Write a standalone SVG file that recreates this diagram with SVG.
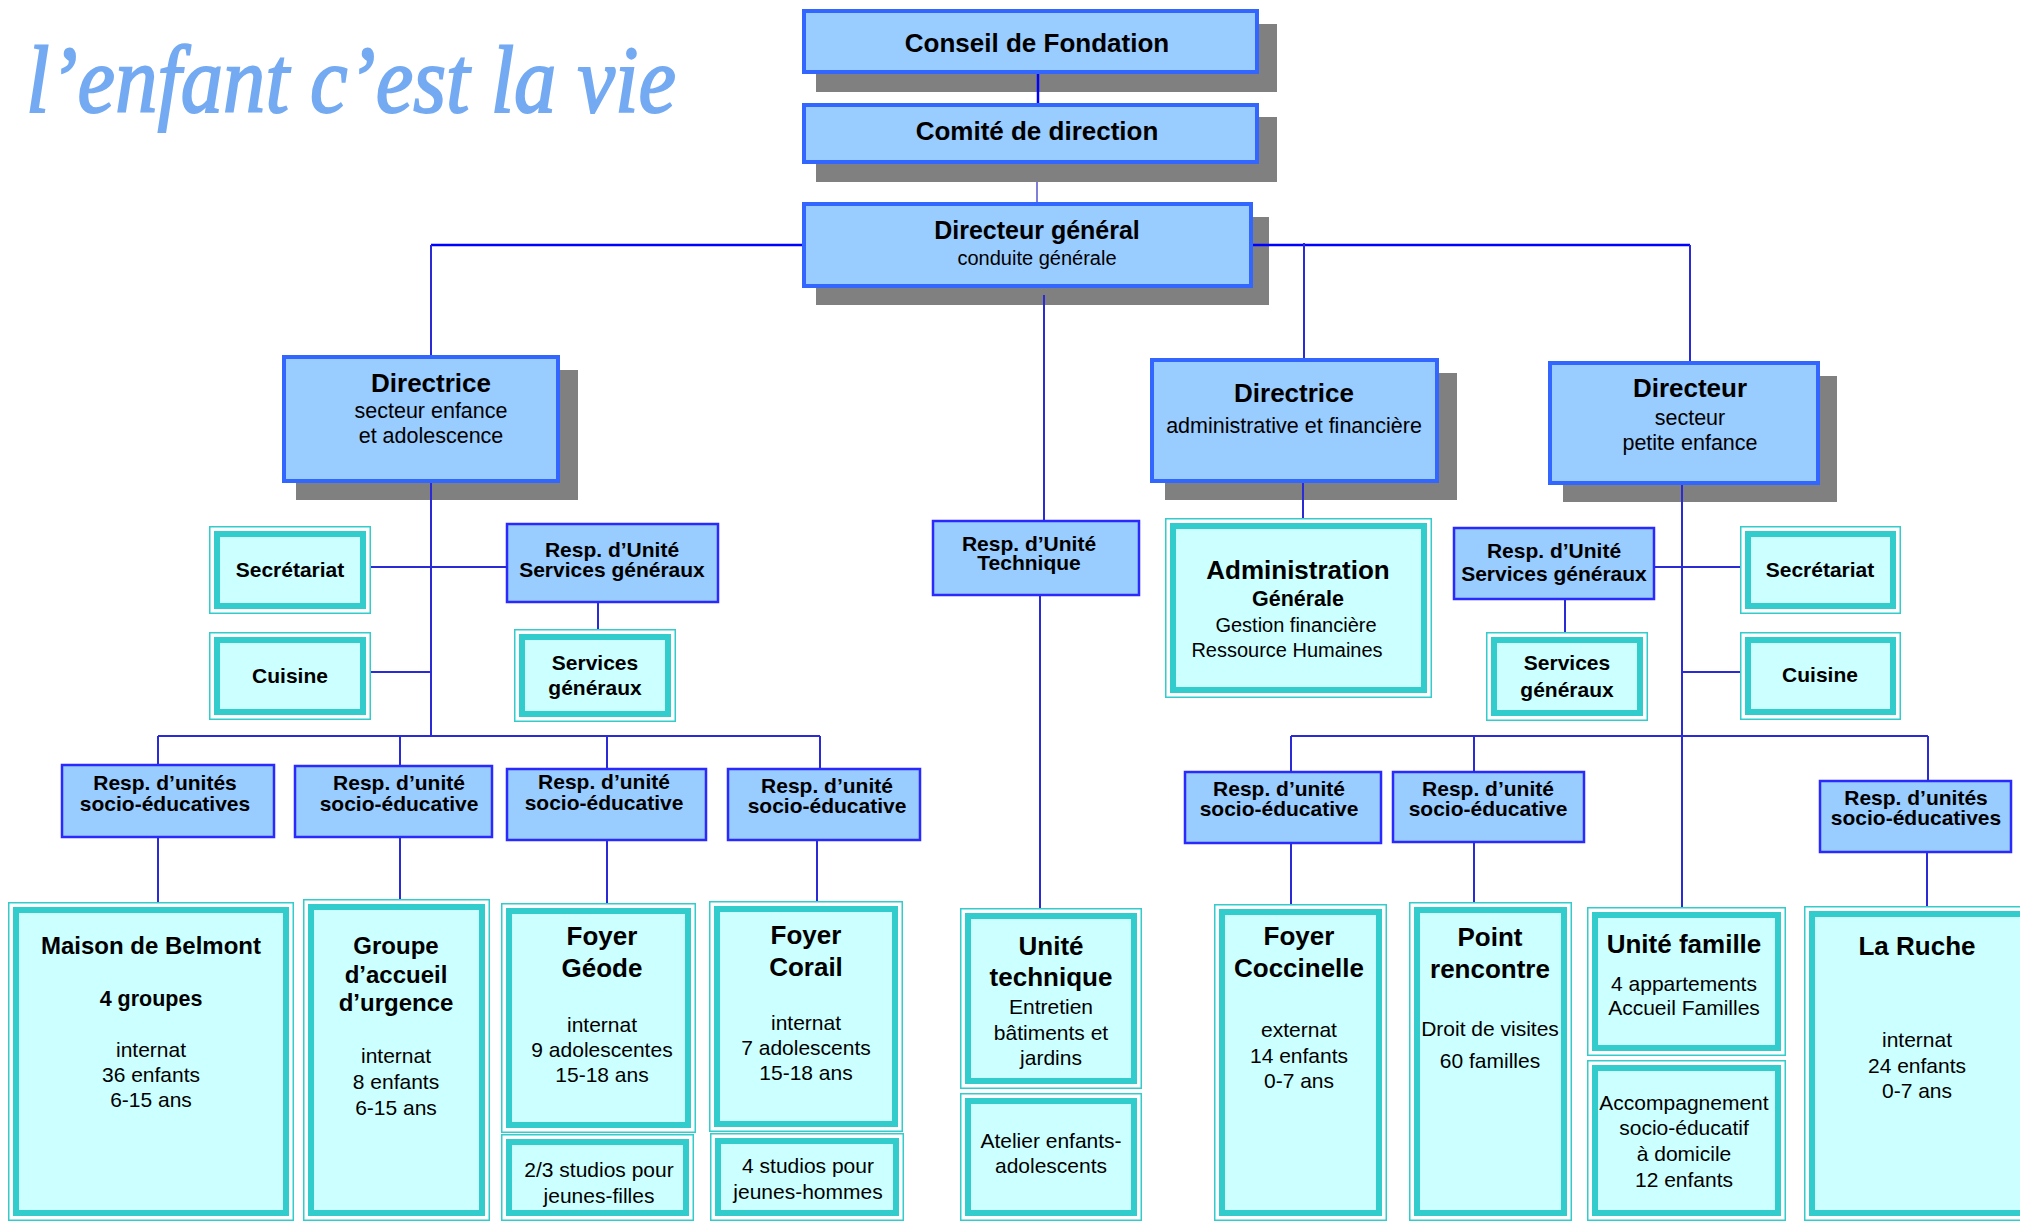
<svg xmlns="http://www.w3.org/2000/svg" width="2020" height="1221" viewBox="0 0 2020 1221">
<style>
text{font-family:"Liberation Sans",Arial,sans-serif;fill:#000;text-anchor:middle}
.b{font-weight:bold}
.t26{font-size:26px}
.t25{font-size:25px}
.t24{font-size:24px}
.t21{font-size:21px}
.t20{font-size:20px}
.s{font-size:21.5px}
.sh{fill:#808080}
.bx{fill:#99ccff;stroke:#3366ff;stroke-width:4}
.rb{fill:#99ccff;stroke:#2a2aff;stroke-width:2.5}
.to{fill:#ffffff;stroke:#33cccc;stroke-width:1.5}
.ti{fill:#ccffff;stroke:#33cccc;stroke-width:6}
.c{fill:none;stroke:#2b2bd6;stroke-width:2}
.cm{fill:none;stroke:#0000ff;stroke-width:2.5}
.logo{font-family:"Liberation Serif",serif;font-style:italic;font-size:96px;fill:#74aaf2;stroke:#74aaf2;stroke-width:2;text-anchor:start}
</style>

<text id="logo" class="logo" x="26" y="112" textLength="650" lengthAdjust="spacingAndGlyphs">l’enfant c’est la vie</text>

<g id="conseil">
<rect class="sh" x="816" y="24" width="461" height="68"/>
<rect class="bx" x="804" y="11" width="453" height="61"/>
<text class="b t26" x="1037" y="52">Conseil de Fondation</text>
</g>
<g id="comite">
<rect class="sh" x="816" y="117" width="461" height="65"/>
<rect class="bx" x="804" y="105" width="453" height="57"/>
<text class="b t26" x="1037" y="140">Comité de direction</text>
</g>
<g id="dg">
<rect class="sh" x="816" y="217" width="453" height="88"/>
<rect class="bx" x="804" y="204" width="447" height="82"/>
<text class="b t25" x="1037" y="239">Directeur général</text>
<text class="t20" x="1037" y="265">conduite générale</text>
</g>

<g id="dir-enfance">
<rect class="sh" x="296" y="370" width="282" height="130"/>
<rect class="bx" x="284" y="357" width="274" height="124"/>
<text class="b t26" x="431" y="392">Directrice</text>
<text class="s" x="431" y="418">secteur enfance</text>
<text class="s" x="431" y="443">et adolescence</text>
</g>
<g id="dir-admin">
<rect class="sh" x="1165" y="373" width="292" height="127"/>
<rect class="bx" x="1152" y="360" width="285" height="121"/>
<text class="b t26" x="1294" y="402">Directrice</text>
<text class="s" x="1294" y="433">administrative et financière</text>
</g>
<g id="dir-petite">
<rect class="sh" x="1563" y="376" width="274" height="126"/>
<rect class="bx" x="1550" y="363" width="268" height="120"/>
<text class="b t26" x="1690" y="397">Directeur</text>
<text class="s" x="1690" y="425">secteur</text>
<text class="s" x="1690" y="450">petite enfance</text>
</g>

<g id="resp-sg-l">
<rect class="rb" x="507" y="524" width="211" height="78"/>
<text class="b t21" x="612" y="557">Resp. d’Unité</text>
<text class="b t21" x="612" y="577">Services généraux</text>
</g>
<g id="resp-tech">
<rect class="rb" x="933" y="521" width="206" height="74"/>
<text class="b t21" x="1029" y="551">Resp. d’Unité</text>
<text class="b t21" x="1029" y="570">Technique</text>
</g>
<g id="resp-sg-r">
<rect class="rb" x="1454" y="528" width="200" height="71"/>
<text class="b t21" x="1554" y="558">Resp. d’Unité</text>
<text class="b t21" x="1554" y="581">Services généraux</text>
</g>

<g id="resp-1">
<rect class="rb" x="62" y="765" width="212" height="72"/>
<text class="b t21" x="165" y="790">Resp. d’unités</text>
<text class="b t21" x="165" y="811">socio-éducatives</text>
</g>
<g id="resp-2">
<rect class="rb" x="295" y="766" width="197" height="71"/>
<text class="b t21" x="399" y="790">Resp. d’unité</text>
<text class="b t21" x="399" y="811">socio-éducative</text>
</g>
<g id="resp-3">
<rect class="rb" x="507" y="769" width="199" height="71"/>
<text class="b t21" x="604" y="789">Resp. d’unité</text>
<text class="b t21" x="604" y="810">socio-éducative</text>
</g>
<g id="resp-4">
<rect class="rb" x="728" y="769" width="192" height="71"/>
<text class="b t21" x="827" y="793">Resp. d’unité</text>
<text class="b t21" x="827" y="813">socio-éducative</text>
</g>
<g id="resp-a">
<rect class="rb" x="1185" y="772" width="196" height="71"/>
<text class="b t21" x="1279" y="796">Resp. d’unité</text>
<text class="b t21" x="1279" y="816">socio-éducative</text>
</g>
<g id="resp-b">
<rect class="rb" x="1393" y="772" width="191" height="70"/>
<text class="b t21" x="1488" y="796">Resp. d’unité</text>
<text class="b t21" x="1488" y="816">socio-éducative</text>
</g>
<g id="resp-c">
<rect class="rb" x="1820" y="781" width="191" height="71"/>
<text class="b t21" x="1916" y="805">Resp. d’unités</text>
<text class="b t21" x="1916" y="825">socio-éducatives</text>
</g>

<g id="secretariat-l">
<rect class="to" x="209.75" y="526.75" width="160.5" height="86.5"/>
<rect class="ti" x="217" y="534" width="146" height="72"/>
<text class="b t21" x="290" y="577">Secrétariat</text>
</g>
<g id="cuisine-l">
<rect class="to" x="209.75" y="632.75" width="160.5" height="86.5"/>
<rect class="ti" x="217" y="640" width="146" height="72"/>
<text class="b t21" x="290" y="683">Cuisine</text>
</g>
<g id="sg-l">
<rect class="to" x="514.75" y="629.75" width="160.5" height="91.5"/>
<rect class="ti" x="522" y="637" width="146" height="77"/>
<text class="b t21" x="595" y="670">Services</text>
<text class="b t21" x="595" y="695">généraux</text>
</g>
<g id="administration">
<rect class="to" x="1165.75" y="518.75" width="265.5" height="178.5"/>
<rect class="ti" x="1173" y="526" width="251" height="164"/>
<text class="b t26" x="1298" y="579">Administration</text>
<text class="b s" x="1298" y="606">Générale</text>
<text class="t20" x="1296" y="632">Gestion financière</text>
<text class="t20" x="1287" y="657">Ressource Humaines</text>
</g>
<g id="sg-r">
<rect class="to" x="1486.75" y="632.75" width="160.5" height="87.5"/>
<rect class="ti" x="1494" y="640" width="146" height="73"/>
<text class="b t21" x="1567" y="670">Services</text>
<text class="b t21" x="1567" y="697">généraux</text>
</g>
<g id="secretariat-r">
<rect class="to" x="1740.75" y="526.75" width="159.5" height="86.5"/>
<rect class="ti" x="1748" y="534" width="145" height="72"/>
<text class="b t21" x="1820" y="577">Secrétariat</text>
</g>
<g id="cuisine-r">
<rect class="to" x="1740.75" y="632.75" width="159.5" height="86.5"/>
<rect class="ti" x="1748" y="640" width="145" height="72"/>
<text class="b t21" x="1820" y="682">Cuisine</text>
</g>

<g id="belmont">
<rect class="to" x="8.75" y="902.75" width="284.5" height="317.5"/>
<rect class="ti" x="16" y="910" width="270" height="303"/>
<text class="b t24" x="151" y="954">Maison de Belmont</text>
<text class="b s" x="151" y="1006">4 groupes</text>
<text class="t21" x="151" y="1057">internat</text>
<text class="t21" x="151" y="1082">36 enfants</text>
<text class="t21" x="151" y="1107">6-15 ans</text>
</g>
<g id="groupe-accueil">
<rect class="to" x="303.75" y="899.75" width="185.5" height="320.5"/>
<rect class="ti" x="311" y="907" width="171" height="306"/>
<text class="b t24" x="396" y="954">Groupe</text>
<text class="b t24" x="396" y="983">d’accueil</text>
<text class="b t24" x="396" y="1011">d’urgence</text>
<text class="t21" x="396" y="1063">internat</text>
<text class="t21" x="396" y="1089">8 enfants</text>
<text class="t21" x="396" y="1115">6-15 ans</text>
</g>
<g id="geode">
<rect class="to" x="501.75" y="903.75" width="193.5" height="228.5"/>
<rect class="ti" x="509" y="911" width="179" height="214"/>
<text class="b t26" x="602" y="945">Foyer</text>
<text class="b t26" x="602" y="977">Géode</text>
<text class="t21" x="602" y="1032">internat</text>
<text class="t21" x="602" y="1057">9 adolescentes</text>
<text class="t21" x="602" y="1082">15-18 ans</text>
</g>
<g id="studios-filles">
<rect class="to" x="501.75" y="1134.75" width="191.5" height="85.5"/>
<rect class="ti" x="509" y="1142" width="177" height="71"/>
<text class="t21" x="599" y="1177">2/3 studios pour</text>
<text class="t21" x="599" y="1203">jeunes-filles</text>
</g>
<g id="corail">
<rect class="to" x="709.75" y="901.75" width="192.5" height="229.5"/>
<rect class="ti" x="717" y="909" width="178" height="215"/>
<text class="b t26" x="806" y="944">Foyer</text>
<text class="b t26" x="806" y="976">Corail</text>
<text class="t21" x="806" y="1030">internat</text>
<text class="t21" x="806" y="1055">7 adolescents</text>
<text class="t21" x="806" y="1080">15-18 ans</text>
</g>
<g id="studios-hommes">
<rect class="to" x="710.75" y="1133.75" width="192.5" height="86.5"/>
<rect class="ti" x="718" y="1141" width="178" height="72"/>
<text class="t21" x="808" y="1173">4 studios pour</text>
<text class="t21" x="808" y="1199">jeunes-hommes</text>
</g>
<g id="unite-technique">
<rect class="to" x="960.75" y="908.75" width="180.5" height="179.5"/>
<rect class="ti" x="968" y="916" width="166" height="165"/>
<text class="b t26" x="1051" y="955">Unité</text>
<text class="b t26" x="1051" y="986">technique</text>
<text class="t21" x="1051" y="1014">Entretien</text>
<text class="t21" x="1051" y="1040">bâtiments et</text>
<text class="t21" x="1051" y="1065">jardins</text>
</g>
<g id="atelier">
<rect class="to" x="960.75" y="1093.75" width="180.5" height="126.5"/>
<rect class="ti" x="968" y="1101" width="166" height="112"/>
<text class="t21" x="1051" y="1148">Atelier enfants-</text>
<text class="t21" x="1051" y="1173">adolescents</text>
</g>
<g id="coccinelle">
<rect class="to" x="1214.75" y="904.75" width="171.5" height="315.5"/>
<rect class="ti" x="1222" y="912" width="157" height="301"/>
<text class="b t26" x="1299" y="945">Foyer</text>
<text class="b t26" x="1299" y="977">Coccinelle</text>
<text class="t21" x="1299" y="1037">externat</text>
<text class="t21" x="1299" y="1063">14 enfants</text>
<text class="t21" x="1299" y="1088">0-7 ans</text>
</g>
<g id="point-rencontre">
<rect class="to" x="1409.75" y="902.75" width="161.5" height="317.5"/>
<rect class="ti" x="1417" y="910" width="147" height="303"/>
<text class="b t26" x="1490" y="946">Point</text>
<text class="b t26" x="1490" y="978">rencontre</text>
<text class="t21" x="1490" y="1036">Droit de visites</text>
<text class="t21" x="1490" y="1068">60 familles</text>
</g>
<g id="unite-famille">
<rect class="to" x="1587.75" y="907.75" width="197.5" height="147.5"/>
<rect class="ti" x="1595" y="915" width="183" height="133"/>
<text class="b t26" x="1684" y="953">Unité famille</text>
<text class="t21" x="1684" y="991">4 appartements</text>
<text class="t21" x="1684" y="1015">Accueil Familles</text>
</g>
<g id="accompagnement">
<rect class="to" x="1587.75" y="1060.75" width="197.5" height="159.5"/>
<rect class="ti" x="1595" y="1068" width="183" height="145"/>
<text class="t21" x="1684" y="1110">Accompagnement</text>
<text class="t21" x="1684" y="1135">socio-éducatif</text>
<text class="t21" x="1684" y="1161">à domicile</text>
<text class="t21" x="1684" y="1187">12 enfants</text>
</g>
<g id="la-ruche">
<rect class="to" x="1804.75" y="906.75" width="230" height="313.5"/>
<rect class="ti" x="1812" y="914" width="220" height="299"/>
<text class="b t26" x="1917" y="955">La Ruche</text>
<text class="t21" x="1917" y="1047">internat</text>
<text class="t21" x="1917" y="1073">24 enfants</text>
<text class="t21" x="1917" y="1098">0-7 ans</text>
</g>

<g id="connectors">
<line class="cm" x1="1038" y1="74" x2="1038" y2="103"/>
<line class="c" x1="1037" y1="182" x2="1037" y2="202" style="stroke:#5555cc;stroke-width:1.5"/>
<polyline class="cm" points="802,245 431,245"/>
<polyline class="c" points="431,245 431,355"/>
<polyline class="cm" points="1253,245 1690,245"/>
<polyline class="c" points="1690,245 1690,361"/>
<line class="c" x1="1304" y1="243" x2="1304" y2="358"/>
<line class="c" x1="1044" y1="295" x2="1044" y2="520"/>
<line class="c" x1="1040" y1="596" x2="1040" y2="908"/>
<line class="c" x1="431" y1="483" x2="431" y2="736"/>
<line class="c" x1="371" y1="567" x2="507" y2="567"/>
<line class="c" x1="598" y1="603" x2="598" y2="629"/>
<line class="c" x1="371" y1="672" x2="431" y2="672"/>
<line class="c" x1="158" y1="736" x2="820" y2="736"/>
<line class="c" x1="158" y1="736" x2="158" y2="764"/>
<line class="c" x1="400" y1="736" x2="400" y2="765"/>
<line class="c" x1="607" y1="736" x2="607" y2="768"/>
<line class="c" x1="820" y1="736" x2="820" y2="768"/>
<line class="c" x1="158" y1="838" x2="158" y2="902"/>
<line class="c" x1="400" y1="838" x2="400" y2="899"/>
<line class="c" x1="607" y1="841" x2="607" y2="903"/>
<line class="c" x1="817" y1="841" x2="817" y2="901"/>
<line class="c" x1="1303" y1="483" x2="1303" y2="518"/>
<line class="c" x1="1682" y1="485" x2="1682" y2="907"/>
<line class="c" x1="1655" y1="567" x2="1740" y2="567"/>
<line class="c" x1="1565" y1="600" x2="1565" y2="632"/>
<line class="c" x1="1682" y1="672" x2="1740" y2="672"/>
<line class="c" x1="1291" y1="736" x2="1928" y2="736"/>
<line class="c" x1="1291" y1="736" x2="1291" y2="772"/>
<line class="c" x1="1474" y1="736" x2="1474" y2="772"/>
<line class="c" x1="1928" y1="736" x2="1928" y2="781"/>
<line class="c" x1="1291" y1="844" x2="1291" y2="904"/>
<line class="c" x1="1474" y1="843" x2="1474" y2="902"/>
<line class="c" x1="1927" y1="853" x2="1927" y2="906"/>
</g>
</svg>
